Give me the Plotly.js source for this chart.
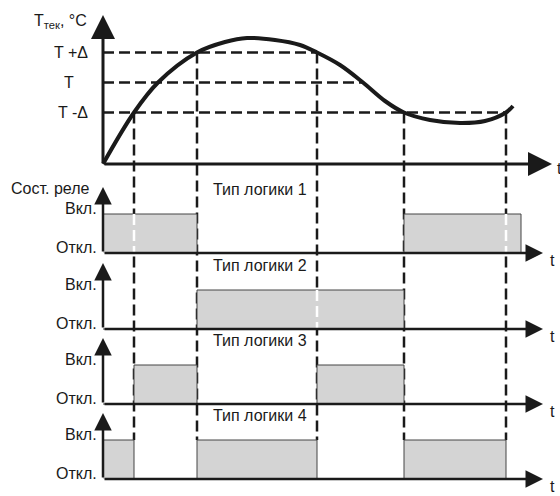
<!DOCTYPE html>
<html>
<head>
<meta charset="utf-8">
<script src="https://cdn.plot.ly/plotly-3.0.1.min.js"></script>
<style>
    body { margin: 0; background: #fff; }
    #relayChart { width: 560px; height: 496px; }
</style>
</head>
<body>
<div id="relayChart"></div>

<script>
    // Temperature curve (time in arbitrary units, temperature in °C)
    var curveTime = [0, 3.1, 5.5, 9.4, 12.2, 14.4, 17.2, 19.7, 21.4, 23.7, 26, 28.2, 30.1, 32.7, 35.7, 38.2, 40.3, 41];
    var curveTemp = [11.85, 17, 20, 23, 24.05, 24.45, 24.25, 23.75, 23, 21.75, 20, 18.15, 17, 16.25, 15.95, 16.15, 17, 17.65];

    var setPoint = 20;
    var delta = 3;
    var levelNames = ['T +Δ', 'T', 'T -Δ'];
    var levelValues = [setPoint + delta, setPoint, setPoint - delta];
    var levelEnds = [21.4, 26, 40.3];

    // moments where the curve hits T+Δ / T-Δ
    var switchTimes = [3.1, 9.4, 21.4, 30.1, 40.3];
    var switchTemps = [17, 23, 23, 17, 17];

    var logicNames = ['Тип логики 1', 'Тип логики 2', 'Тип логики 3', 'Тип логики 4'];
    var stateNames = ['Откл.', 'Вкл.'];

    var relay1Time = [0, 9.4, 30.1, 41.8];
    var relay1State = [1, 0, 1, 0];
    var relay2Time = [0, 9.4, 30.1];
    var relay2State = [0, 1, 0];
    var relay3Time = [0, 3.1, 9.4, 21.4, 30.1];
    var relay3State = [0, 1, 0, 1, 0];
    var relay4Time = [0, 3.1, 9.4, 21.4, 30.1, 40.3];
    var relay4State = [1, 0, 1, 0, 1, 0];

    var relayTimes = [relay1Time, relay2Time, relay3Time, relay4Time];
    var relayStates = [relay1State, relay2State, relay3State, relay4State];

    // page geometry (pixels)
    var W = 560, H = 496;
    var ORIGIN_PX = 103, TIME_PX = 10;
    var SET_ROW = 82.5, DEG_PX = 10;
    var RELAY_BASE = [253, 329, 404, 479], RELAY_PX = 39;

    function tx(px) { return (px - ORIGIN_PX) / TIME_PX; }
    function tempAt(py) { return setPoint - (py - SET_ROW) / DEG_PX; }
    function relayAt(k, py) { return (RELAY_BASE[k] - py) / RELAY_PX; }

    var ink = '#1a1a1a';
    var grey = '#d4d4d4';
    var font = { family: 'Liberation Sans, Arial, sans-serif', size: 16, color: ink };
    var baseTemp = curveTemp[0];

    function createRelayChart() {
        var traces = [{
            x: curveTime,
            y: curveTemp,
            type: 'scatter',
            mode: 'lines',
            line: { color: ink, width: 4, shape: 'spline', smoothing: 1 },
            hoverinfo: 'skip'
        }];

        relayTimes.forEach(function (times, k) {
            traces.push({
                x: times,
                y: relayStates[k],
                yaxis: 'y' + (k + 2),
                type: 'scatter',
                mode: 'lines',
                line: { color: '#444', width: 1, shape: 'hv' },
                fill: 'tozeroy',
                fillcolor: grey,
                hoverinfo: 'skip'
            });
        });

        var shapes = [];
        var dash = { color: ink, width: 2.5, dash: '11px,5px' };

        // horizontal T levels
        levelValues.forEach(function (v, i) {
            shapes.push({
                type: 'line', xref: 'x', yref: 'y', layer: 'below',
                x0: 0, x1: levelEnds[i], y0: v, y1: v, line: dash
            });
        });

        // vertical switching lines down to the last relay's "on" level
        var bottom = tempAt(RELAY_BASE[3] - RELAY_PX);
        switchTimes.forEach(function (t, i) {
            shapes.push({
                type: 'line', xref: 'x', yref: 'y', layer: 'below',
                x0: t, x1: t, y0: switchTemps[i], y1: bottom, line: dash
            });
            // inside grey blocks the dashes show white
            relayTimes.forEach(function (times, k) {
                var states = relayStates[k];
                for (var j = 0; j < times.length - 1; j++) {
                    if (states[j] === 1 && t > times[j] && t < times[j + 1]) {
                        shapes.push({
                            type: 'line', xref: 'x', yref: 'y' + (k + 2), layer: 'above',
                            x0: t, x1: t, y0: 1, y1: 0,
                            line: { color: '#fff', width: 2.5, dash: '11px,5px' }
                        });
                    }
                }
            });
        });

        var ann = [];
        function arrow(yref, x, y, ax, ay, w, size) {
            ann.push({
                xref: 'x', yref: yref, axref: 'x', ayref: yref,
                x: x, y: y, ax: ax, ay: ay, text: '',
                showarrow: true, arrowhead: 2, arrowwidth: w, arrowsize: size,
                arrowcolor: ink, standoff: 0
            });
        }
        function label(yref, x, y, text, xanchor, yshift) {
            ann.push({
                xref: 'x', yref: yref, x: x, y: y, text: text,
                showarrow: false, xanchor: xanchor, yanchor: 'middle',
                yshift: yshift || 0, font: font
            });
        }

        // main axes
        arrow('y', 0, tempAt(15), 0, baseTemp, 3, 1.6);
        arrow('y', tx(552), baseTemp, 0, baseTemp, 3, 1.6);
        label('y', tx(89), tempAt(21), 'T<sub>тек</sub>, °C', 'right');
        levelNames.forEach(function (name, i) {
            if (name === 'T') label('y', tx(69), levelValues[i], name, 'center');
            else label('y', tx(90), levelValues[i], name, 'right');
        });
        label('y', tx(555), tempAt(168), 't', 'left');

        // relay panels
        label('y2', tx(92), relayAt(0, 188), 'Сост. реле', 'right');
        logicNames.forEach(function (name, k) {
            var yr = 'y' + (k + 2);
            arrow(yr, 0, relayAt(k, RELAY_BASE[k] - 66), 0, 0, 2.5, 1.4);
            arrow(yr, tx(543), 0, 0, 0, 2.5, 1.4);
            label(yr, tx(211), 1.62, name, 'left');
            label(yr, tx(99), 1, stateNames[1], 'right', 6);
            label(yr, tx(99), 0, stateNames[0], 'right', 6);
            label(yr, tx(548), relayAt(k, RELAY_BASE[k] + 7), 't', 'left');
        });

        var layout = {
            width: W,
            height: H,
            margin: { t: 0, r: 0, b: 0, l: 0, pad: 0 },
            showlegend: false,
            paper_bgcolor: '#fff',
            plot_bgcolor: '#fff',
            xaxis: { range: [tx(0), tx(W)], visible: false },
            yaxis: { range: [tempAt(H), tempAt(0)], visible: false },
            shapes: shapes,
            annotations: ann
        };
        RELAY_BASE.forEach(function (base, k) {
            layout['yaxis' + (k + 2)] = {
                range: [relayAt(k, H), relayAt(k, 0)],
                overlaying: 'y',
                anchor: 'x',
                visible: false
            };
        });

        Plotly.newPlot('relayChart', traces, layout, { displayModeBar: false, staticPlot: true });
    }

    createRelayChart();
</script>
</body>
</html>
